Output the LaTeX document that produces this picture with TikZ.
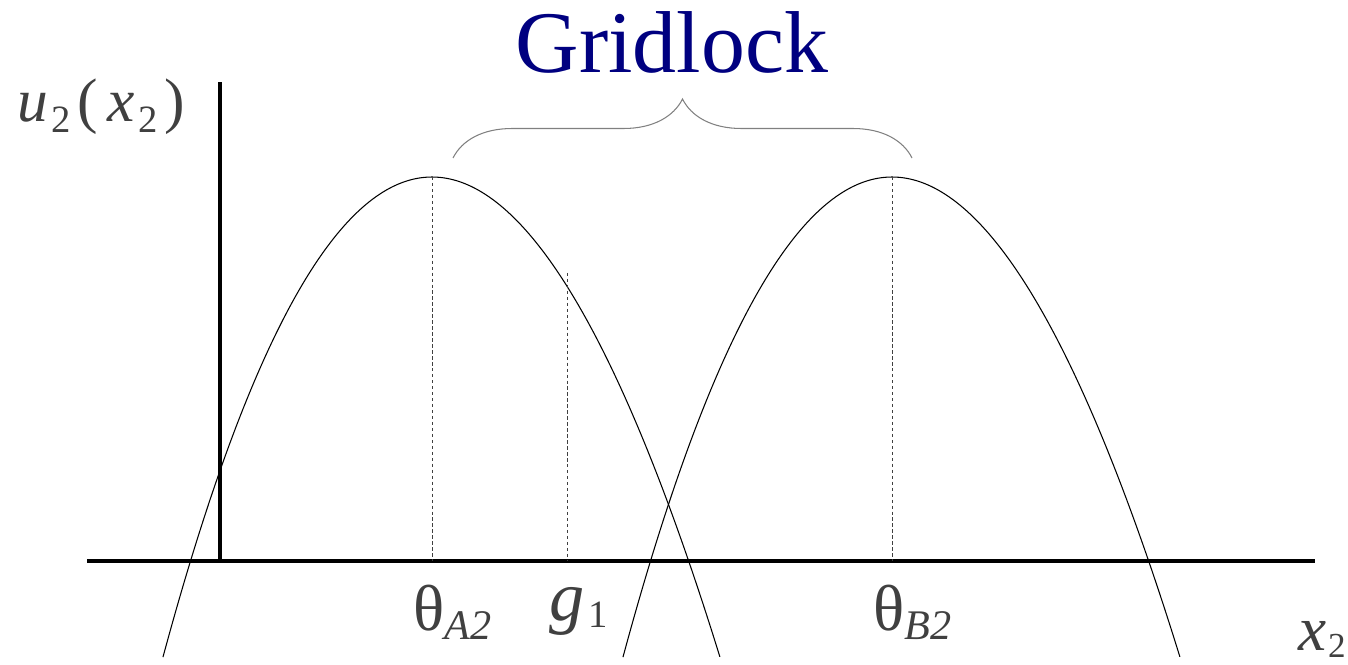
\documentclass[tikz,border=0pt]{standalone}
\usepackage{fontspec}
\setmainfont{Liberation Serif}
\usetikzlibrary{decorations.pathreplacing}
\definecolor{gridnavy}{HTML}{000080}
\definecolor{lblgray}{HTML}{404040}
\definecolor{bracegray}{HTML}{808080}
\newcommand{\lowsub}[3]{\raisebox{-#2}{\fontsize{#3}{#3}\selectfont #1}}

\begin{document}
\begin{tikzpicture}[x=0.02cm,y=-0.02cm]

\tikzset{
axisline/.style={
    line width=2pt,
    black
},
curve/.style={
    line width=0.6pt,
    black
},
guide/.style={
    line width=0.5pt,
    lblgray,
    dash pattern=on 1.9pt off 1.5pt
},
lbl/.style={
    anchor=base west,
    text=lblgray,
    inner sep=0pt
},
bracepath/.style={
    decorate,
    decoration={brace,amplitude=1.18cm},
    line width=0.6pt,
    bracegray
}
}

\useasboundingbox (0,0) rectangle (1348,665);

\coordinate (xstart) at (87,561);
\coordinate (xend) at (1315,561);
\coordinate (origin) at (220,561);
\coordinate (ytop) at (220,82);

\draw[axisline] (xstart) -- (xend);
\draw[axisline] (origin) -- (ytop);

% the two utility curves
\draw[curve] plot[domain=-2.785:2.785,samples=80,smooth] ({432+100*\x+1.22*\x*\x},{177+61.9*\x*\x});
\draw[curve] plot[domain=-2.785:2.785,samples=80,smooth] ({892+100*\x+1.22*\x*\x},{177+61.9*\x*\x});

\coordinate (peakA) at (432,177);
\coordinate (baseA) at (432,561);
\coordinate (gtop) at (567,273);
\coordinate (gbase) at (567,561);
\coordinate (peakB) at (892,177);
\coordinate (baseB) at (892,561);

\draw[guide] (peakA) -- (baseA);
\draw[guide] (gtop) -- (gbase);
\draw[guide] (peakB) -- (baseB);

\coordinate (braceL) at (453,158);
\coordinate (braceR) at (912,158);
\draw[bracepath] (braceL) -- (braceR);

\node[anchor=base,inner sep=0pt,text=gridnavy,font=\fontsize{50}{50}\selectfont] (gridlock) at (672,73) {Gridlock};

\node[lbl,font=\fontsize{35}{35}\selectfont] (ulabel) at (17,122)
  {\textit{u}\kern2pt\lowsub{2}{6pt}{22}\kern4pt(\kern5pt\textit{x}\kern2pt\lowsub{2}{6pt}{22}\kern4pt)};
\node[lbl,font=\fontsize{37}{37}\selectfont] (thetaA) at (413,630)
  {θ\lowsub{\textit{A2}}{5.5pt}{24}};
\node[lbl,font=\fontsize{40}{40}\selectfont] (glabel) at (549,620)
  {\textit{g}\kern2pt\lowsub{1}{4.5pt}{22}};
\node[lbl,font=\fontsize{37}{37}\selectfont] (thetaB) at (873,630)
  {θ\lowsub{\textit{B2}}{5.5pt}{24}};
\node[lbl,font=\fontsize{36}{36}\selectfont] (xlabel) at (1298,650)
  {\textit{x}\kern1pt\lowsub{2}{4pt}{20}};

\end{tikzpicture}
\end{document}
